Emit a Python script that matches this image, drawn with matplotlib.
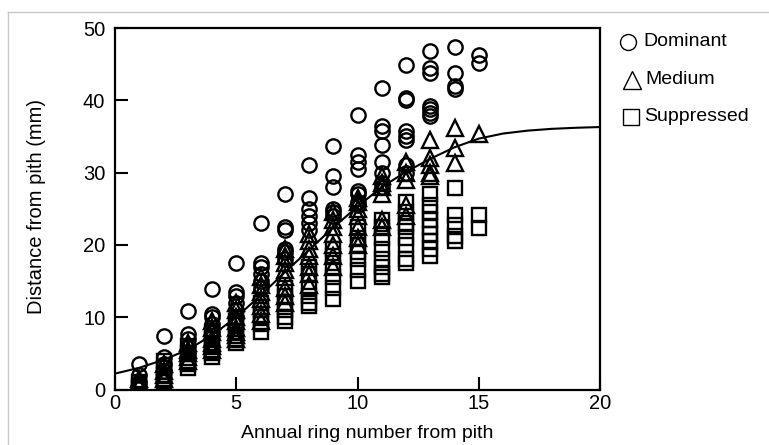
import matplotlib
matplotlib.use("Agg")
import matplotlib.pyplot as plt
from matplotlib.lines import Line2D

plt.rcParams['font.family'] = ['Liberation Sans', 'DejaVu Sans']

# ---- data ----
dom_x = [1]*3 + [2]*4 + [3]*5 + [4]*5 + [5]*6 + [6]*6 + [7]*6 + [8]*6 + [9]*6 + [10]*8 + [11]*8 + [12]*8 + [13]*7 + [14]*4 + [15]*2
dom_y = [3.5, 2.0, 1.0,
         7.4, 4.5, 3.5, 2.5,
         10.9, 7.7, 7.0, 6.0, 5.0,
         13.9, 10.5, 10.0, 9.0, 8.0,
         17.5, 13.5, 13.0, 12.0, 11.0, 10.0,
         23.0, 17.5, 17.0, 16.0, 15.0, 14.0,
         27.0, 22.5, 22.0, 19.5, 19.0, 18.0,
         31.0, 26.5, 25.0, 24.0, 23.0, 22.0,
         33.7, 29.5, 28.0, 25.0, 24.5, 24.0,
         38.0, 32.5, 31.5, 30.5, 27.5, 27.0, 26.0, 25.5,
         41.7, 36.5, 35.8, 33.8, 31.5, 30.0, 28.5, 28.0,
         44.9, 40.3, 40.0, 35.8, 35.0, 34.5, 31.0, 30.0,
         46.8, 44.5, 43.8, 39.2, 38.8, 38.3, 37.8,
         47.4, 43.8, 42.0, 41.5,
         46.3, 45.2]

med_x = [1]*3 + [2]*4 + [3]*5 + [4]*7 + [5]*8 + [6]*7 + [7]*8 + [8]*7 + [9]*7 + [10]*7 + [11]*6 + [12]*5 + [13]*5 + [14]*3 + [15]*1
med_y = [1.5, 1.0, 0.5,
         3.5, 2.5, 2.0, 1.5,
         6.5, 5.5, 5.0, 4.5, 4.0,
         9.5, 8.5, 8.0, 7.0, 6.5, 6.0, 5.5,
         12.0, 11.0, 10.0, 9.5, 8.5, 8.0, 7.5, 7.0,
         15.5, 14.5, 13.5, 12.5, 11.5, 10.5, 9.5,
         19.5, 18.5, 17.5, 16.5, 15.5, 14.0, 13.0, 12.0,
         21.5, 20.5, 19.5, 18.5, 17.0, 16.0, 14.5,
         24.5, 23.5, 22.5, 21.5, 20.0, 18.5, 17.0,
         26.5, 26.0, 25.0, 24.0, 22.5, 21.0, 20.0,
         29.5, 28.5, 28.0, 27.0, 23.5, 22.5,
         31.5, 30.0, 29.0, 25.5, 24.0,
         34.5, 32.0, 31.0, 30.0, 29.5,
         36.2, 33.4, 31.3,
         35.3]

sup_x = [1]*3 + [2]*5 + [3]*5 + [4]*6 + [5]*5 + [6]*5 + [7]*6 + [8]*6 + [9]*6 + [10]*7 + [11]*8 + [12]*8 + [13]*9 + [14]*5 + [15]*2
sup_y = [1.0, 0.5, 0.2,
         4.0, 3.0, 2.0, 1.5, 1.0,
         6.0, 5.0, 4.0, 3.5, 3.0,
         8.0, 7.0, 6.0, 5.5, 5.0, 4.5,
         9.5, 9.0, 8.0, 7.0, 6.5,
         12.0, 11.0, 10.0, 9.0, 8.0,
         14.0, 13.0, 12.0, 11.0, 10.0, 9.5,
         17.0, 16.0, 14.0, 13.0, 12.0, 11.5,
         19.5, 18.5, 17.0, 15.5, 14.0, 12.5,
         22.5, 21.0, 20.0, 19.0, 18.0, 16.5, 15.0,
         23.5, 22.5, 21.0, 19.5, 18.0, 17.0, 16.0, 15.5,
         26.0, 24.5, 23.0, 22.5, 21.0, 20.0, 18.0, 17.5,
         27.0, 25.5, 24.5, 23.5, 22.5, 21.5, 20.5, 19.5, 18.5,
         27.9, 24.2, 22.8, 21.3, 20.5,
         24.1, 22.3]

curve_x = [0, 1, 2, 3, 4, 5, 6, 7, 8, 9, 10, 11, 12, 13, 14, 15, 16, 17, 18, 19, 20]
curve_y = [2.2, 3.0, 4.1, 5.5, 7.5, 10.0, 13.0, 16.2, 19.3, 22.4, 25.3, 28.0, 30.1, 31.9, 33.5, 34.7, 35.4, 35.8, 36.05, 36.2, 36.3]

labels = ["Dominant", "Medium", "Suppressed"]
xticks = [0, 5, 10, 15, 20]
yticks = [0, 10, 20, 30, 40, 50]

W, H = 769, 445

# ---- figure ----
fig = plt.figure(figsize=(W/100, H/100), dpi=100)
ax = fig.add_axes([115/W, 1-389.5/H, 485/W, 361.5/H])

mk = dict(linestyle='none', markerfacecolor='none', markeredgecolor='black', markeredgewidth=1.7)
ax.plot(dom_x, dom_y, marker='o', markersize=10.3, **mk)
ax.plot(med_x, med_y, marker='^', markersize=11.5, **mk)
ax.plot(sup_x, sup_y, marker='s', markersize=9.6, **mk)
ax.plot(curve_x, curve_y, color='black', linewidth=1.5)

ax.set_xlim(0, 20)
ax.set_ylim(0, 50)
ax.set_xticks(xticks)
ax.set_yticks(yticks)
ax.tick_params(direction='in', length=9.5, width=1.5, labelsize=14.5,
               top=False, right=False)
ax.tick_params(axis='x', pad=3)
ax.tick_params(axis='y', pad=7)
for s in ax.spines.values():
    s.set_linewidth(1.6)
ax.set_xlabel("Annual ring number from pith", fontsize=14)
ax.xaxis.set_label_coords(367/W, 1-433/H, transform=fig.transFigure)
ax.set_ylabel("Distance from pith (mm)", fontsize=14.5)
ax.yaxis.set_label_coords(37/W, 1-207/H, transform=fig.transFigure)
ax.xaxis.label.set_va('center')
ax.yaxis.label.set_va('center')

# legend (marker + label per class)
leg_markers = [('o', 11.5, 628), ('^', 12.5, 632), ('s', 11.5, 630.5)]
leg_rows = [42, 80, 116.5]
leg_text_x = [643, 645, 644]
for (m, ms, mx), lab, yr, tx in zip(leg_markers, labels, leg_rows, leg_text_x):
    fig.add_artist(Line2D([mx/W], [1-yr/H], transform=fig.transFigure, marker=m, markersize=ms,
                          linestyle='none', markerfacecolor='none', markeredgecolor='black',
                          markeredgewidth=1.0))
    fig.text(tx/W, 1-yr/H, lab, fontsize=14, ha='left', va='center')

# light page frame
fig.add_artist(Line2D([8/W, 1], [1-12/H, 1-12/H], transform=fig.transFigure,
                      color='#c8c8c8', linewidth=1))
fig.add_artist(Line2D([8/W, 8/W], [0, 1-12/H], transform=fig.transFigure,
                      color='#c8c8c8', linewidth=1))

fig.savefig("out.png", dpi=100)
